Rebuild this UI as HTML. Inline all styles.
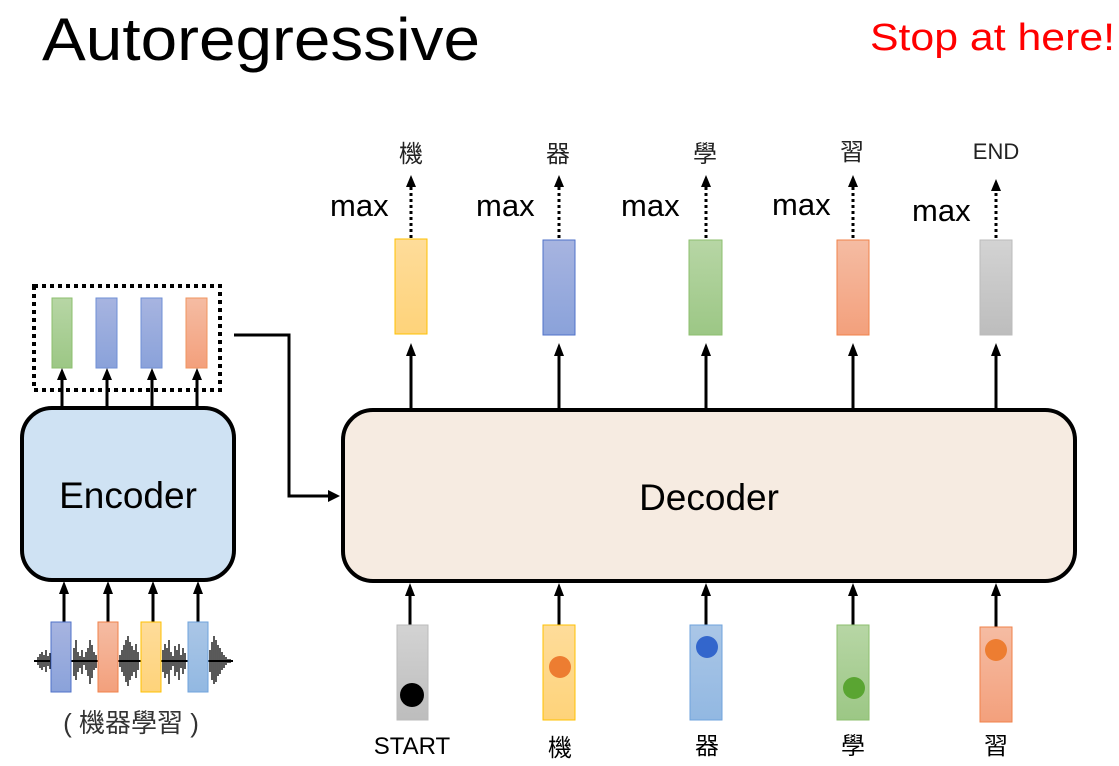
<!DOCTYPE html>
<html><head><meta charset="utf-8"><style>
html,body{margin:0;padding:0;background:#fff;}
svg{display:block;}
text{font-family:"Liberation Sans","Noto Sans CJK TC",sans-serif;}
</style></head><body>
<svg width="1119" height="766" viewBox="0 0 1119 766" xmlns="http://www.w3.org/2000/svg">
<defs>
<marker id="ah" markerWidth="10" markerHeight="10" refX="5" refY="9" orient="auto-start-reverse" markerUnits="userSpaceOnUse" viewBox="0 0 10 10">
</marker>
<linearGradient id="gy" x1="0" y1="0" x2="0" y2="1"><stop offset="0" stop-color="#fedc9a"/><stop offset="1" stop-color="#fed37a"/></linearGradient>
<linearGradient id="gb" x1="0" y1="0" x2="0" y2="1"><stop offset="0" stop-color="#a7b4e0"/><stop offset="1" stop-color="#8aa2da"/></linearGradient>
<linearGradient id="gg" x1="0" y1="0" x2="0" y2="1"><stop offset="0" stop-color="#b7d6a5"/><stop offset="1" stop-color="#9cc785"/></linearGradient>
<linearGradient id="go" x1="0" y1="0" x2="0" y2="1"><stop offset="0" stop-color="#f5bca3"/><stop offset="1" stop-color="#f3a07c"/></linearGradient>
<linearGradient id="gr" x1="0" y1="0" x2="0" y2="1"><stop offset="0" stop-color="#d3d3d3"/><stop offset="1" stop-color="#bdbdbd"/></linearGradient>
<linearGradient id="gl" x1="0" y1="0" x2="0" y2="1"><stop offset="0" stop-color="#aac6e6"/><stop offset="1" stop-color="#92b8e2"/></linearGradient>
</defs>

<text x="42" y="60" font-size="60" textLength="438" lengthAdjust="spacingAndGlyphs" fill="#000">Autoregressive</text>
<text x="870" y="50" font-size="38" textLength="245" lengthAdjust="spacingAndGlyphs" fill="#ff0000">Stop at here!</text>

<!-- Encoder -->
<rect x="22" y="408" width="212" height="172" rx="30" fill="#cfe2f3" stroke="#000" stroke-width="4"/>
<text x="128" y="508" font-size="37" text-anchor="middle">Encoder</text>

<!-- dotted box -->
<rect x="34" y="286" width="186" height="104" fill="none" stroke="#000" stroke-width="4" stroke-dasharray="4,4"/>
<rect x="52" y="298" width="20" height="70" fill="url(#gg)" stroke="#8cbf6e" stroke-width="1"/>
<rect x="96" y="298" width="21" height="70" fill="url(#gb)" stroke="#6f8fd6" stroke-width="1"/>
<rect x="141" y="298" width="21" height="70" fill="url(#gb)" stroke="#6f8fd6" stroke-width="1"/>
<rect x="186" y="298" width="21" height="70" fill="url(#go)" stroke="#f0945f" stroke-width="1"/>
<g stroke="#000" stroke-width="3">
<line x1="62" y1="408" x2="62" y2="378"/><line x1="107" y1="408" x2="107" y2="378"/><line x1="152" y1="408" x2="152" y2="378"/><line x1="197" y1="408" x2="197" y2="378"/>
</g>
<g fill="#000">
<polygon points="62,368 57,380 67,380"/><polygon points="107,368 102,380 112,380"/><polygon points="152,368 147,380 157,380"/><polygon points="197,368 192,380 202,380"/>
</g>

<!-- connector -->
<polyline points="234,335 289,335 289,496 330,496" fill="none" stroke="#000" stroke-width="3"/>
<polygon points="340,496 328,490 328,502" fill="#000"/>

<!-- encoder inputs -->
<g stroke="#000" stroke-width="3">
<line x1="64" y1="622" x2="64" y2="592"/><line x1="108" y1="622" x2="108" y2="592"/><line x1="153" y1="622" x2="153" y2="592"/><line x1="198" y1="622" x2="198" y2="592"/>
</g>
<g fill="#000">
<polygon points="64,581 59,594 69,594"/><polygon points="108,581 103,594 113,594"/><polygon points="153,581 148,594 158,594"/><polygon points="198,581 193,594 203,594"/>
</g>
<!-- waveform -->
<g stroke="#000" stroke-width="1.3">
<line x1="34" y1="661" x2="233" y2="661" stroke-width="2"/>
<path d="M38 657V665M40 654V668M42 652V670M44 655V667M46 650V672M48 656V666M50 653V669
M74 648V676M76 640V680M78 652V672M80 656V668M82 650V674M84 657V665M86 652V670M88 648V676M90 640V684M92 645V678M94 652V670M96 655V668
M120 655V667M122 650V672M124 645V676M126 640V682M128 636V686M130 642V680M132 646V676M134 650V672M136 644V678M138 652V670
M163 650V672M165 644V678M167 648V674M169 640V684M171 652V670M173 656V666M175 646V676M177 650V672M179 644V680M181 655V668M183 648V674M185 653V669
M210 650V672M212 642V680M214 636V684M216 640V682M218 645V676M220 648V674M222 652V670M224 655V668M226 657V665M228 659V663M230 659V663"/>
</g>
<rect x="51" y="622" width="20" height="70" fill="url(#gb)" stroke="#4f72c9" stroke-width="1"/>
<rect x="98" y="622" width="20" height="70" fill="url(#go)" stroke="#f0824a" stroke-width="1"/>
<rect x="141" y="622" width="20" height="70" fill="url(#gy)" stroke="#ffc000" stroke-width="1"/>
<rect x="188" y="622" width="20" height="70" fill="url(#gl)" stroke="#6fa3dc" stroke-width="1"/>
<text x="131" y="732" font-size="26" text-anchor="middle" fill="#333">( 機器學習 )</text>

<!-- Decoder -->
<rect x="343" y="410" width="732" height="171" rx="30" fill="#f6ebe1" stroke="#000" stroke-width="4"/>
<text x="709" y="510" font-size="37" text-anchor="middle">Decoder</text>

<!-- decoder outputs -->
<g stroke="#000" stroke-width="3">
<line x1="411" y1="408" x2="411" y2="355"/><line x1="559" y1="408" x2="559" y2="355"/><line x1="706" y1="408" x2="706" y2="355"/><line x1="853" y1="408" x2="853" y2="355"/><line x1="996" y1="408" x2="996" y2="355"/>
</g>
<g fill="#000">
<polygon points="411,343 406,356 416,356"/><polygon points="559,343 554,356 564,356"/><polygon points="706,343 701,356 711,356"/><polygon points="853,343 848,356 858,356"/><polygon points="996,343 991,356 1001,356"/>
</g>
<rect x="395" y="239" width="32" height="95" fill="url(#gy)" stroke="#ffc000" stroke-width="1"/>
<rect x="543" y="240" width="32" height="95" fill="url(#gb)" stroke="#4f72c9" stroke-width="1"/>
<rect x="689" y="240" width="33" height="95" fill="url(#gg)" stroke="#8cbf6e" stroke-width="1"/>
<rect x="837" y="240" width="32" height="95" fill="url(#go)" stroke="#f0824a" stroke-width="1"/>
<rect x="980" y="240" width="32" height="95" fill="url(#gr)" stroke="#bbb" stroke-width="1"/>

<g stroke="#000" stroke-width="3" stroke-dasharray="3,3">
<line x1="411" y1="238" x2="411" y2="186"/><line x1="559" y1="238" x2="559" y2="186"/><line x1="706" y1="238" x2="706" y2="186"/><line x1="853" y1="238" x2="853" y2="186"/><line x1="996" y1="238" x2="996" y2="190"/>
</g>
<g fill="#000">
<polygon points="411,175 406,187 416,187"/><polygon points="559,175 554,187 564,187"/><polygon points="706,175 701,187 711,187"/><polygon points="853,175 848,187 858,187"/><polygon points="996,179 991,191 1001,191"/>
</g>
<g font-size="31" fill="#000">
<text x="330" y="216">max</text><text x="476" y="216">max</text><text x="621" y="216">max</text><text x="772" y="215">max</text><text x="912" y="221">max</text>
</g>
<g font-size="24" fill="#222" text-anchor="middle">
<text x="411" y="162">機</text><text x="558" y="162">器</text><text x="705" y="162">學</text><text x="852" y="160">習</text>
<text x="996" y="159" font-size="22">END</text>
</g>

<!-- decoder inputs -->
<g stroke="#000" stroke-width="3">
<line x1="410" y1="625" x2="410" y2="595"/><line x1="559" y1="625" x2="559" y2="595"/><line x1="706" y1="625" x2="706" y2="595"/><line x1="853" y1="625" x2="853" y2="595"/><line x1="996" y1="627" x2="996" y2="595"/>
</g>
<g fill="#000">
<polygon points="410,583 405,596 415,596"/><polygon points="559,583 554,596 564,596"/><polygon points="706,583 701,596 711,596"/><polygon points="853,583 848,596 858,596"/><polygon points="996,583 991,596 1001,596"/>
</g>
<rect x="397" y="625" width="31" height="95" fill="url(#gr)" stroke="#bbb" stroke-width="1"/>
<rect x="543" y="625" width="32" height="95" fill="url(#gy)" stroke="#ffc000" stroke-width="1"/>
<rect x="690" y="625" width="32" height="95" fill="url(#gl)" stroke="#6fa3dc" stroke-width="1"/>
<rect x="837" y="625" width="32" height="95" fill="url(#gg)" stroke="#8cbf6e" stroke-width="1"/>
<rect x="980" y="627" width="32" height="95" fill="url(#go)" stroke="#f0824a" stroke-width="1"/>
<circle cx="412" cy="695" r="12" fill="#000"/>
<circle cx="560" cy="667" r="11" fill="#ed7d31"/>
<circle cx="707" cy="647" r="11" fill="#3366cc"/>
<circle cx="854" cy="688" r="11" fill="#5aa532"/>
<circle cx="996" cy="650" r="11" fill="#ed7d31"/>
<g font-size="24" fill="#000" text-anchor="middle">
<text x="412" y="754">START</text><text x="560" y="756">機</text><text x="707" y="754">器</text><text x="853" y="754">學</text><text x="996" y="754">習</text>
</g>
</svg>
</body></html>
